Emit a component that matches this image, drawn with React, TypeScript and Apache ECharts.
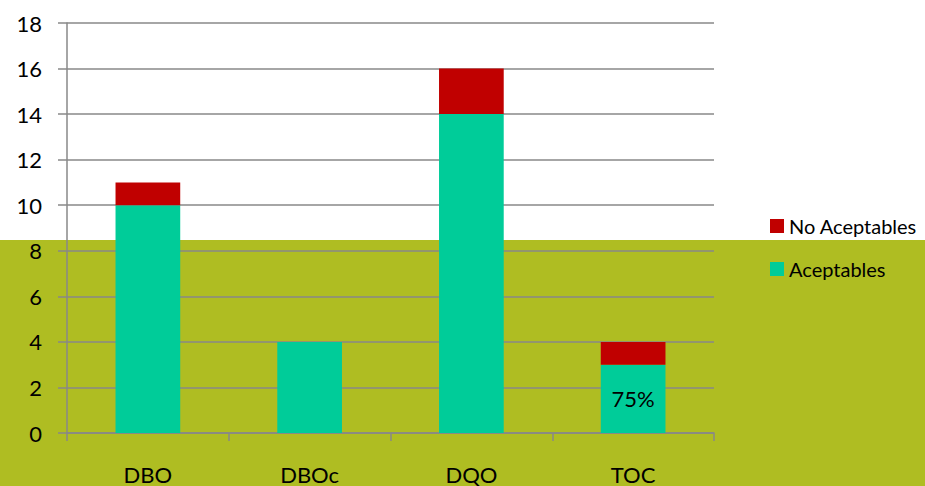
import React, { useEffect, useRef } from "react";
import * as echarts from "echarts";

const categories = ["DBO", "DBOc", "DQO", "TOC"];
const aceptables = [10, 4, 14, 3];
const noAceptables = [1, 0, 2, 1];
const aceptablesLabels = ["", "", "", "75%"];
const yTicks = { min: 0, max: 18, interval: 2 };

const FONT = "Lato, 'Open Sans', sans-serif";

export default function App() {
  const ref = useRef<HTMLDivElement>(null);
  useEffect(() => {
    document.body.style.margin = "0";
    const chart = echarts.init(ref.current!, null, { renderer: "svg" });
    chart.setOption({
      animation: false,
      backgroundColor: "transparent",
      textStyle: { fontFamily: FONT },
      grid: { left: 67, right: 211, top: 23, bottom: 53, containLabel: false },
      legend: {
        orient: "vertical",
        left: 770,
        top: 216,
        padding: 0,
        itemWidth: 14,
        itemHeight: 14,
        itemGap: 23,
        icon: "rect",
        data: ["No Aceptables", "Aceptables"],
        textStyle: { fontSize: 20, color: "#000", fontFamily: FONT },
      },
      xAxis: {
        type: "category",
        data: categories,
        axisLine: { lineStyle: { color: "#888", width: 1.5 } },
        axisTick: { show: true, interval: 0, length: 8, lineStyle: { color: "#888", width: 1.5 } },
        axisLabel: { fontSize: 22, color: "#000", margin: 30, fontFamily: FONT },
      },
      yAxis: {
        type: "value",
        min: yTicks.min,
        max: yTicks.max,
        interval: yTicks.interval,
        axisLine: { show: true, lineStyle: { color: "#888", width: 1.5 } },
        axisTick: { show: true, length: 9, lineStyle: { color: "#888", width: 1.5 } },
        splitLine: { show: true, lineStyle: { color: "#888", width: 1.5 } },
        axisLabel: { fontSize: 22, color: "#000", margin: 25, fontFamily: FONT },
      },
      series: [
        {
          name: "Aceptables",
          type: "bar",
          stack: "total",
          barWidth: "40%",
          itemStyle: { color: "#00CC99" },
          data: aceptables.map((v, i) => ({
            value: v,
            label: {
              show: aceptablesLabels[i] !== "",
              formatter: aceptablesLabels[i],
              position: "inside",
              color: "#000",
              fontSize: 22,
              fontFamily: FONT,
            },
          })),
        },
        {
          name: "No Aceptables",
          type: "bar",
          stack: "total",
          barWidth: "40%",
          itemStyle: { color: "#C00000" },
          data: noAceptables,
        },
      ],
    });
    return () => chart.dispose();
  }, []);
  return (
    <div
      style={{
        position: "absolute",
        left: 0,
        top: 0,
        width: 925,
        height: 486,
        background: "linear-gradient(to bottom, #ffffff 0px, #ffffff 240px, #AFBD22 240px, #AFBD22 486px)",
      }}
    >
      <div ref={ref} style={{ width: 925, height: 486 }} />
    </div>
  );
}
